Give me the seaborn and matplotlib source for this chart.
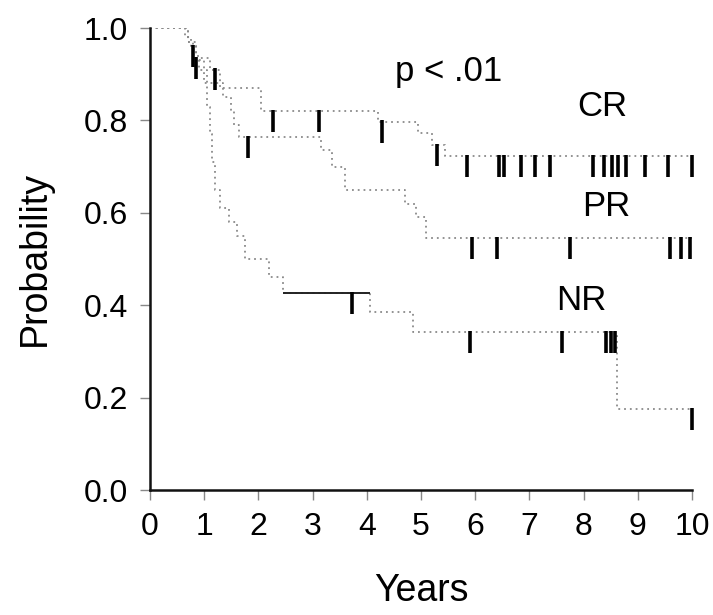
import numpy as np
import pandas as pd
import matplotlib
matplotlib.use("Agg")
import matplotlib.pyplot as plt
import seaborn as sns

# ---- data ----
cr_times = [0.0, 0.65, 0.75, 0.85, 1.1, 1.3, 2.05, 4.2, 4.95, 5.2, 5.45]
cr_surv = [1.0, 0.98, 0.96, 0.935, 0.91, 0.87, 0.82, 0.797, 0.773, 0.747, 0.723]
cr_cens = [0.8, 0.85, 1.2, 2.27, 3.12, 4.28, 5.3, 5.85, 6.43, 6.53, 6.85, 7.1, 7.38,
           8.17, 8.38, 8.52, 8.64, 8.78, 9.13, 9.55, 10.0]

pr_times = [0.0, 0.7, 0.8, 0.9, 1.05, 1.35, 1.5, 1.55, 1.65, 3.15, 3.35, 3.6, 4.7, 4.9, 5.1]
pr_surv = [1.0, 0.97, 0.94, 0.91, 0.88, 0.85, 0.82, 0.79, 0.764, 0.735, 0.70, 0.65, 0.62, 0.59, 0.545]
pr_cens = [1.8, 5.95, 6.4, 7.75, 9.6, 9.8, 9.97]

nr_times = [0.0, 0.7, 0.85, 1.0, 1.05, 1.1, 1.15, 1.2, 1.3, 1.45, 1.6, 1.75, 2.2, 2.45, 4.05, 4.85, 8.62]
nr_surv = [1.0, 0.97, 0.93, 0.88, 0.83, 0.77, 0.71, 0.65, 0.61, 0.58, 0.55, 0.50, 0.46, 0.426, 0.385, 0.342, 0.175]
nr_cens = [3.72, 5.9, 7.6, 8.42, 8.5, 8.58, 10.0]

groups = ["CR", "PR", "NR"]
x_ticks = list(range(0, 11))
y_ticks = [0.0, 0.2, 0.4, 0.6, 0.8, 1.0]
t_end = 10.0

sns.set_theme(style="white")
plt.rcParams["font.family"] = ["Liberation Sans", "DejaVu Sans"]

fig = plt.figure(figsize=(7.13, 6.15), dpi=100)
ax = fig.add_axes([150 / 713, 1 - 490 / 615, (692 - 150) / 713, (490 - 28) / 615])

series = {"CR": (cr_times, cr_surv, cr_cens),
          "PR": (pr_times, pr_surv, pr_cens),
          "NR": (nr_times, nr_surv, nr_cens)}

rows = []
for g in groups:
    t, s, _ = series[g]
    for ti, si in zip(t + [t_end], s + [s[-1]]):
        rows.append({"group": g, "time": ti, "surv": si})
df = pd.DataFrame(rows)

sns.lineplot(data=df, x="time", y="surv", units="group", estimator=None,
             drawstyle="steps-post", color="#8a8a8a", linestyle=(0, (1, 2.2)),
             linewidth=1.3, ax=ax, sort=False, legend=False)

# solid segment visible on the NR curve
k = nr_times.index(2.45)
ax.hlines(nr_surv[k], nr_times[k], nr_times[k + 1], color="#222222", linewidth=1.4)

# censoring marks
for g in groups:
    t, s, c = series[g]
    idx = np.searchsorted(np.array(t), np.array(c), side="right") - 1
    yv = np.array(s)[idx]
    ax.vlines(c, yv - 0.045, yv + 0.003, color="black", linewidth=2.6, clip_on=False)

ax.set_xlim(0, 10)
ax.set_ylim(0, 1.0)
ax.set_xticks(x_ticks)
ax.set_yticks(y_ticks)
ax.set_xticklabels([str(v) for v in x_ticks])
ax.set_yticklabels([f"{v:.1f}" for v in y_ticks])
ax.tick_params(axis="both", labelsize=23, length=7, width=1, color="#888888",
               direction="out", bottom=True, left=True, pad=9, labelcolor="#000000")

for side in ["top", "right"]:
    ax.spines[side].set_visible(False)
for side in ["left", "bottom"]:
    ax.spines[side].set_color("#111111")
    ax.spines[side].set_linewidth(1.8)

ax.set_xlabel("Years", fontsize=27, labelpad=22, color="#000000")
ax.set_ylabel("Probability", fontsize=27, labelpad=22, color="#000000")

ax.text(4.52, 0.905, "p < .01", fontsize=25, va="center", ha="left", color="#000000")
ax.text(7.88, 0.83, "CR", fontsize=25, va="center", ha="left", color="#000000")
ax.text(7.98, 0.613, "PR", fontsize=25, va="center", ha="left", color="#000000")
ax.text(7.5, 0.41, "NR", fontsize=25, va="center", ha="left", color="#000000")

fig.savefig("out.png", dpi=100)
